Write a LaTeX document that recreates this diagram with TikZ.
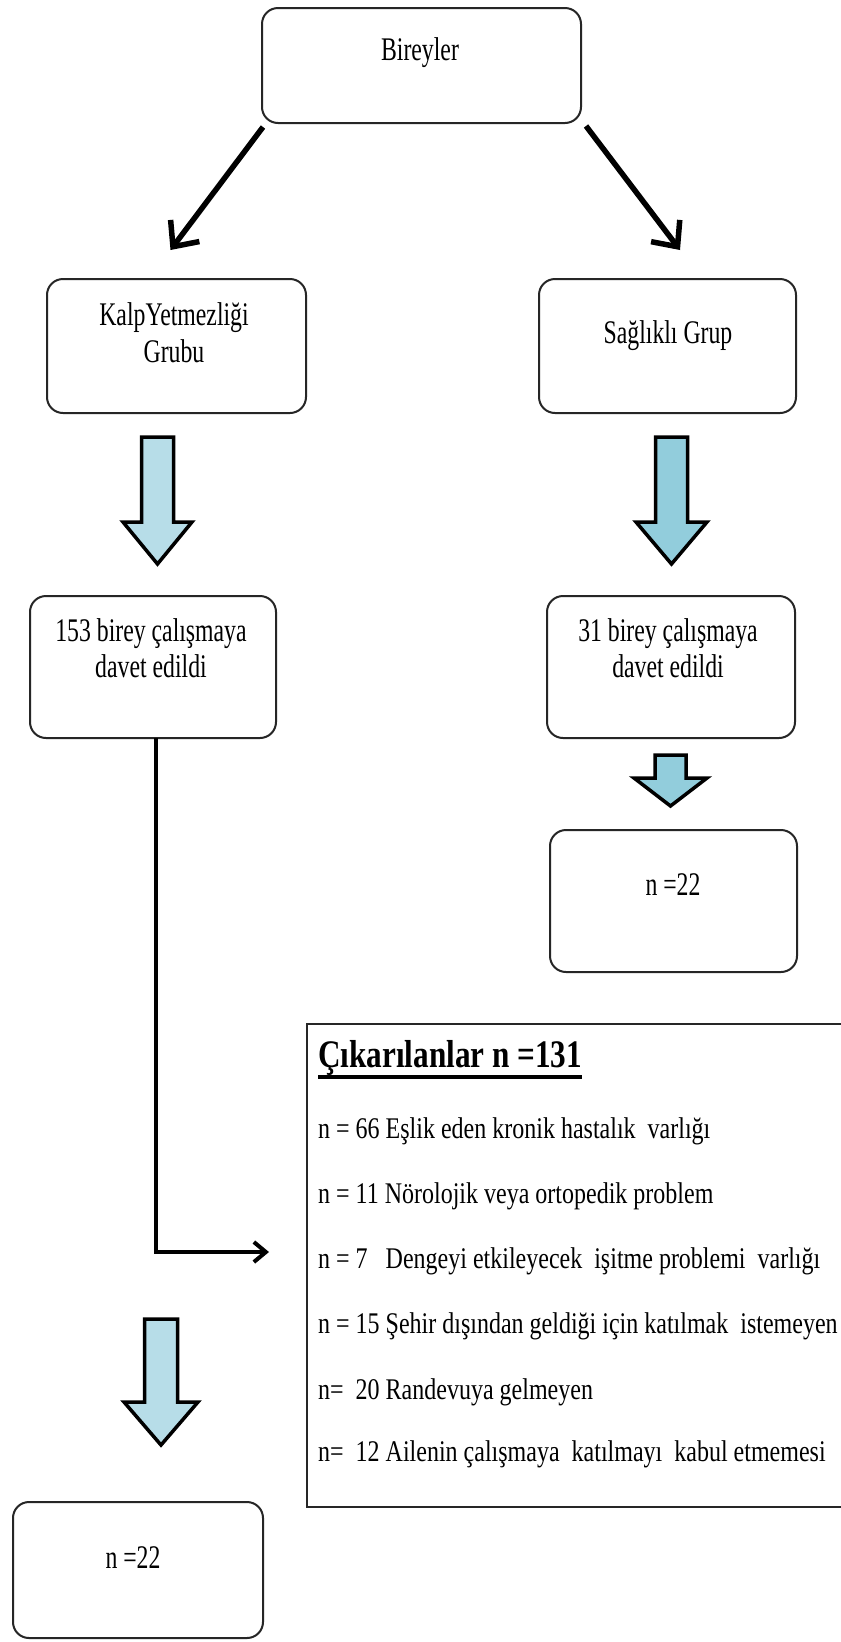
\documentclass[tikz,border=0pt]{standalone}
\usepackage{fontspec}
\setmainfont{Liberation Serif}
\newfontfamily\boxfont[FakeStretch=0.72]{Liberation Serif}
\newfontfamily\itemfont[FakeStretch=0.8]{Liberation Serif}
\newfontfamily\titlefont[FakeStretch=0.8]{Liberation Serif}
\usetikzlibrary{arrows.meta,calc}
\definecolor{lightarrow}{RGB}{183,221,232}
\definecolor{darkarrow}{RGB}{146,205,220}
\newcommand\DownBlock[7]{%
  \draw[blockline, fill=#1] ({#2-#6},{#3}) -- ({#2+#6},{#3}) -- ({#2+#6},{#4}) -- ({#2+#7},{#4}) -- ({#2},{#5}) -- ({#2-#7},{#4}) -- ({#2-#6},{#4}) -- cycle;}
\tikzset{
  box/.style={draw=black!85, line width=2pt, rounded corners=16pt, inner sep=0pt, outer sep=0pt},
  boxtext/.style={font=\boxfont\fontsize{33}{36}\selectfont, inner sep=0pt, anchor=base},
  itemtext/.style={font=\itemfont\fontsize{30}{34}\selectfont, inner sep=0pt, anchor=base west},
  titletext/.style={font=\titlefont\bfseries\fontsize{39}{44}\selectfont, inner sep=0pt, anchor=base west},
  diag/.style={line width=5.5pt, -{Straight Barb[length=20pt,width=36pt]}},
  elbow/.style={line width=4pt, -{Straight Barb[length=12pt,width=20pt]}},
  blockline/.style={line width=3.5pt, draw=black, line join=miter},
  exframe/.style={draw=black!85, line width=2pt, inner sep=0pt, outer sep=0pt}
}
\begin{document}
\begin{tikzpicture}[x=1pt,y=-1pt]
\useasboundingbox (0,0) rectangle (841,1642);
\fill[white] (0,0) rectangle (841,1642);
\clip (0,0) rectangle (841,1642);

% boxes
\node[box, minimum width=319pt, minimum height=115pt] (bir) at (421.5,65.5) {};
\node[box, minimum width=259pt, minimum height=134pt] (kalp) at (176.5,346) {};
\node[box, minimum width=257pt, minimum height=134pt] (sag) at (667.5,346) {};
\node[box, minimum width=246pt, minimum height=142pt] (p153) at (153,667) {};
\node[box, minimum width=248pt, minimum height=142pt] (p31) at (671,667) {};
\node[box, minimum width=247pt, minimum height=142pt] (n22r) at (673.5,901) {};
\node[box, minimum width=250pt, minimum height=136pt] (n22l) at (138,1570) {};
\node[exframe, minimum width=620pt, minimum height=483pt, anchor=north west] (exbox) at (307,1024) {};

% box texts
\node[boxtext] (tbir) at (420,60) {Bireyler};
\node[boxtext] (tkalp1) at (174,325) {KalpYetmezliği};
\node[boxtext] (tkalp2) at (174,362) {Grubu};
\node[boxtext] (tsag) at (668,343) {Sağlıklı Grup};
\node[boxtext] (t153a) at (151,641) {153 birey çalışmaya};
\node[boxtext] (t153b) at (151,677) {davet edildi};
\node[boxtext] (t31a) at (668,641) {31 birey çalışmaya};
\node[boxtext] (t31b) at (668,677) {davet edildi};
\node[boxtext] (tn22r) at (673,895) {n =22};
\node[boxtext] (tn22l) at (133,1568) {n =22};

% exclusion list
\node[titletext] (extitle) at (318,1067) {Çıkarılanlar n =131};
\draw[line width=3.5pt] ([yshift=-10pt]extitle.base west) -- ([yshift=-10pt]extitle.base east);
\node[itemtext] (ex1) at (318,1138) {n = 66 Eşlik eden kronik hastalık\ \ varlığı};
\node[itemtext] (ex2) at (318,1203) {n = 11 Nörolojik veya ortopedik problem};
\node[itemtext] (ex3) at (318,1268) {n = 7\ \ \ Dengeyi etkileyecek\ \ işitme problemi\ \ varlığı};
\node[itemtext] (ex4) at (318,1333) {n = 15 Şehir dışından geldiği için katılmak\ \ istemeyen};
\node[itemtext] (ex5) at (318,1399) {n=\ \ 20 Randevuya gelmeyen};
\node[itemtext] (ex6) at (318,1461) {n=\ \ 12 Ailenin çalışmaya\ \ katılmayı\ \ kabul etmemesi};

% connectors
\draw[diag] ([xshift=1pt,yshift=-4pt]bir.south west) -- ([xshift=-6pt,yshift=29pt]kalp.north);
\draw[diag] ([xshift=5pt,yshift=-3pt]bir.south east) -- ([xshift=12.5pt,yshift=29pt]sag.north);
\draw[elbow] ([xshift=3pt]p153.south) |- ([xshift=-38pt,yshift=13.5pt]exbox.west);

% block arrows
\DownBlock{lightarrow}{157.5}{437}{522}{564}{16}{34.5}
\DownBlock{darkarrow}{671.5}{437}{522}{564}{16}{35.5}
\DownBlock{darkarrow}{670.5}{755}{778}{806}{15.5}{36.5}
\DownBlock{lightarrow}{161}{1319}{1402}{1445}{16.5}{37}
\end{tikzpicture}
\end{document}
